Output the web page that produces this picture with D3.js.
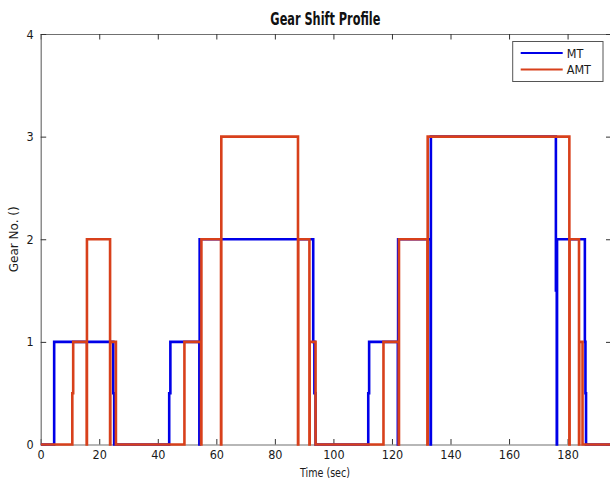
<!DOCTYPE html>
<html>
<head>
<meta charset="utf-8">
<script src="https://cdn.jsdelivr.net/npm/d3@7"></script>
<style>
	html, body { margin: 0; padding: 0; background: #fff; }
	svg { display: block; }
	.tick-label { font-family: "DejaVu Sans Condensed", "Liberation Sans Narrow", sans-serif; fill: #1a1a1a; }
</style>
</head>
<body>
<div id="chart"></div>
<script>
// values (time in sec, gear number)
var mtTime = [0, 4.6, 24.8, 25.1, 43.9, 44.3, 54.2, 54.3, 93.1, 93.5, 93.9, 111.9, 112.2, 122.0, 122.1, 133.2, 133.3, 176.0, 176.3, 176.4, 185.9, 186.1, 186.3, 195];
var mtGear = [0, 1, 0.5, 0, 0.5, 1, 0, 2, 1, 0.5, 0, 0.5, 1, 0, 2, 0, 3, 1.5, 0, 2, 1, 0.5, 0, 0];

var amtTime = [0, 10.8, 11.1, 15.7, 15.8, 23.7, 23.8, 25.7, 49.1, 54.8, 54.9, 61.6, 61.7, 87.9, 88.0, 91.8, 91.9, 93.9, 117.1, 122.3, 122.4, 132.1, 132.2, 180.6, 180.7, 183.9, 184.0, 185.1, 195];
var amtGear = [0, 0.5, 1, 0, 2, 0, 1, 0, 1, 0, 2, 0, 3, 0, 2, 0, 1, 0, 1, 0, 2, 0, 3, 0, 2, 0, 1, 0, 0];

var seriesNames = ['MT', 'AMT'];
var seriesColors = ['#0000e8', '#d8401b'];

var xTicks = [0, 20, 40, 60, 80, 100, 120, 140, 160, 180];
var yTicks = [0, 1, 2, 3, 4];
var xDomain = [0, 195];
var yDomain = [0, 4];

var chartTitle = 'Gear Shift Profile';
var xLabel = 'Time (sec)';
var yLabel = 'Gear No. ()';

(function() {
	'use strict';

	var width = 610, height = 486;
	var box = {left: 40.7, top: 34, right: 611.5, bottom: 444.5};
	var tickLen = 5.5;
	var axisColor = '#707070';

	var svg = d3.select('#chart').append('svg')
		.attr('width', width)
		.attr('height', height);

	var x = d3.scaleLinear().domain(xDomain).range([box.left, box.right]);
	var y = d3.scaleLinear().domain(yDomain).range([box.bottom, box.top]);

	// clip lines to the axes box horizontally
	svg.append('clipPath').attr('id', 'plot-clip')
		.append('rect')
		.attr('x', box.left)
		.attr('y', box.top - 5)
		.attr('width', box.right - box.left)
		.attr('height', box.bottom - box.top + 10);

	// axes box with inward ticks, like matlab
	var fmt = d3.format('d');
	var bottomAxis = d3.axisBottom(x).tickValues(xTicks).tickFormat(fmt).tickSize(-tickLen).tickPadding(6).tickSizeOuter(0);
	var topAxis = d3.axisTop(x).tickValues(xTicks).tickSize(-tickLen).tickFormat('').tickSizeOuter(0);
	var leftAxis = d3.axisLeft(y).tickValues(yTicks).tickFormat(fmt).tickSize(-tickLen).tickPadding(7).tickSizeOuter(0);
	var rightAxis = d3.axisRight(y).tickValues(yTicks).tickSize(-tickLen).tickFormat('').tickSizeOuter(0);

	var axes = [
		[bottomAxis, 'translate(0,' + box.bottom + ')'],
		[topAxis, 'translate(0,' + box.top + ')'],
		[leftAxis, 'translate(' + box.left + ',0)'],
		[rightAxis, 'translate(' + box.right + ',0)']
	];
	axes.forEach(function(a) {
		var g = svg.append('g').attr('transform', a[1]).call(a[0]);
		g.select('.domain').attr('stroke', axisColor).attr('stroke-width', 1.2);
		g.selectAll('.tick line').attr('stroke', '#333').attr('stroke-width', 1);
		g.selectAll('.tick text')
			.attr('class', 'tick-label')
			.style('font-size', '12.5px');
	});

	// data lines
	var lineGen = d3.line()
		.x(function(d) { return x(d[0]); })
		.y(function(d) { return y(d[1]); })
		.curve(d3.curveStepAfter);

	var series = [
		d3.zip(mtTime, mtGear),
		d3.zip(amtTime, amtGear)
	];

	svg.append('g')
		.attr('clip-path', 'url(#plot-clip)')
		.selectAll('path')
		.data(series)
		.enter().append('path')
		.attr('d', lineGen)
		.attr('fill', 'none')
		.attr('stroke', function(d, i) { return seriesColors[i]; })
		.attr('stroke-width', 2.6)
		.attr('stroke-linejoin', 'miter');

	// title and labels
	svg.append('text')
		.attr('x', (box.left + 610) / 2)
		.attr('y', 25)
		.attr('text-anchor', 'middle')
		.attr('textLength', 110)
		.attr('lengthAdjust', 'spacingAndGlyphs')
		.style('font-family', '"DejaVu Sans Condensed", "Liberation Sans Narrow", sans-serif')
		.style('font-weight', 'bold')
		.style('font-size', '18px')
		.style('fill', '#111')
		.text(chartTitle);

	svg.append('text')
		.attr('x', 325)
		.attr('y', 477)
		.attr('text-anchor', 'middle')
		.attr('textLength', 50)
		.attr('lengthAdjust', 'spacingAndGlyphs')
		.attr('class', 'tick-label')
		.style('font-size', '13px')
		.text(xLabel);

	svg.append('text')
		.attr('transform', 'translate(18,' + ((box.top + box.bottom) / 2) + ') rotate(-90)')
		.attr('text-anchor', 'middle')
		.attr('textLength', 66)
		.attr('lengthAdjust', 'spacingAndGlyphs')
		.attr('class', 'tick-label')
		.style('font-size', '11.5px')
		.text(yLabel);

	// legend
	var legend = svg.append('g').attr('transform', 'translate(512.7,41.5)');
	legend.append('rect')
		.attr('width', 90.3)
		.attr('height', 40)
		.attr('fill', '#fff')
		.attr('stroke', '#555')
		.attr('stroke-width', 1);

	var items = legend.selectAll('.item')
		.data(seriesNames)
		.enter().append('g')
		.attr('class', 'item')
		.attr('transform', function(d, i) { return 'translate(0,' + (11.5 + i * 16.5) + ')'; });

	items.append('line')
		.attr('x1', 8)
		.attr('x2', 50)
		.attr('stroke', function(d, i) { return seriesColors[i]; })
		.attr('stroke-width', 2);

	items.append('text')
		.attr('x', 54)
		.attr('y', 4.5)
		.attr('class', 'tick-label')
		.style('font-size', '12.5px')
		.text(function(d) { return d; });
}());
</script>
</body>
</html>
